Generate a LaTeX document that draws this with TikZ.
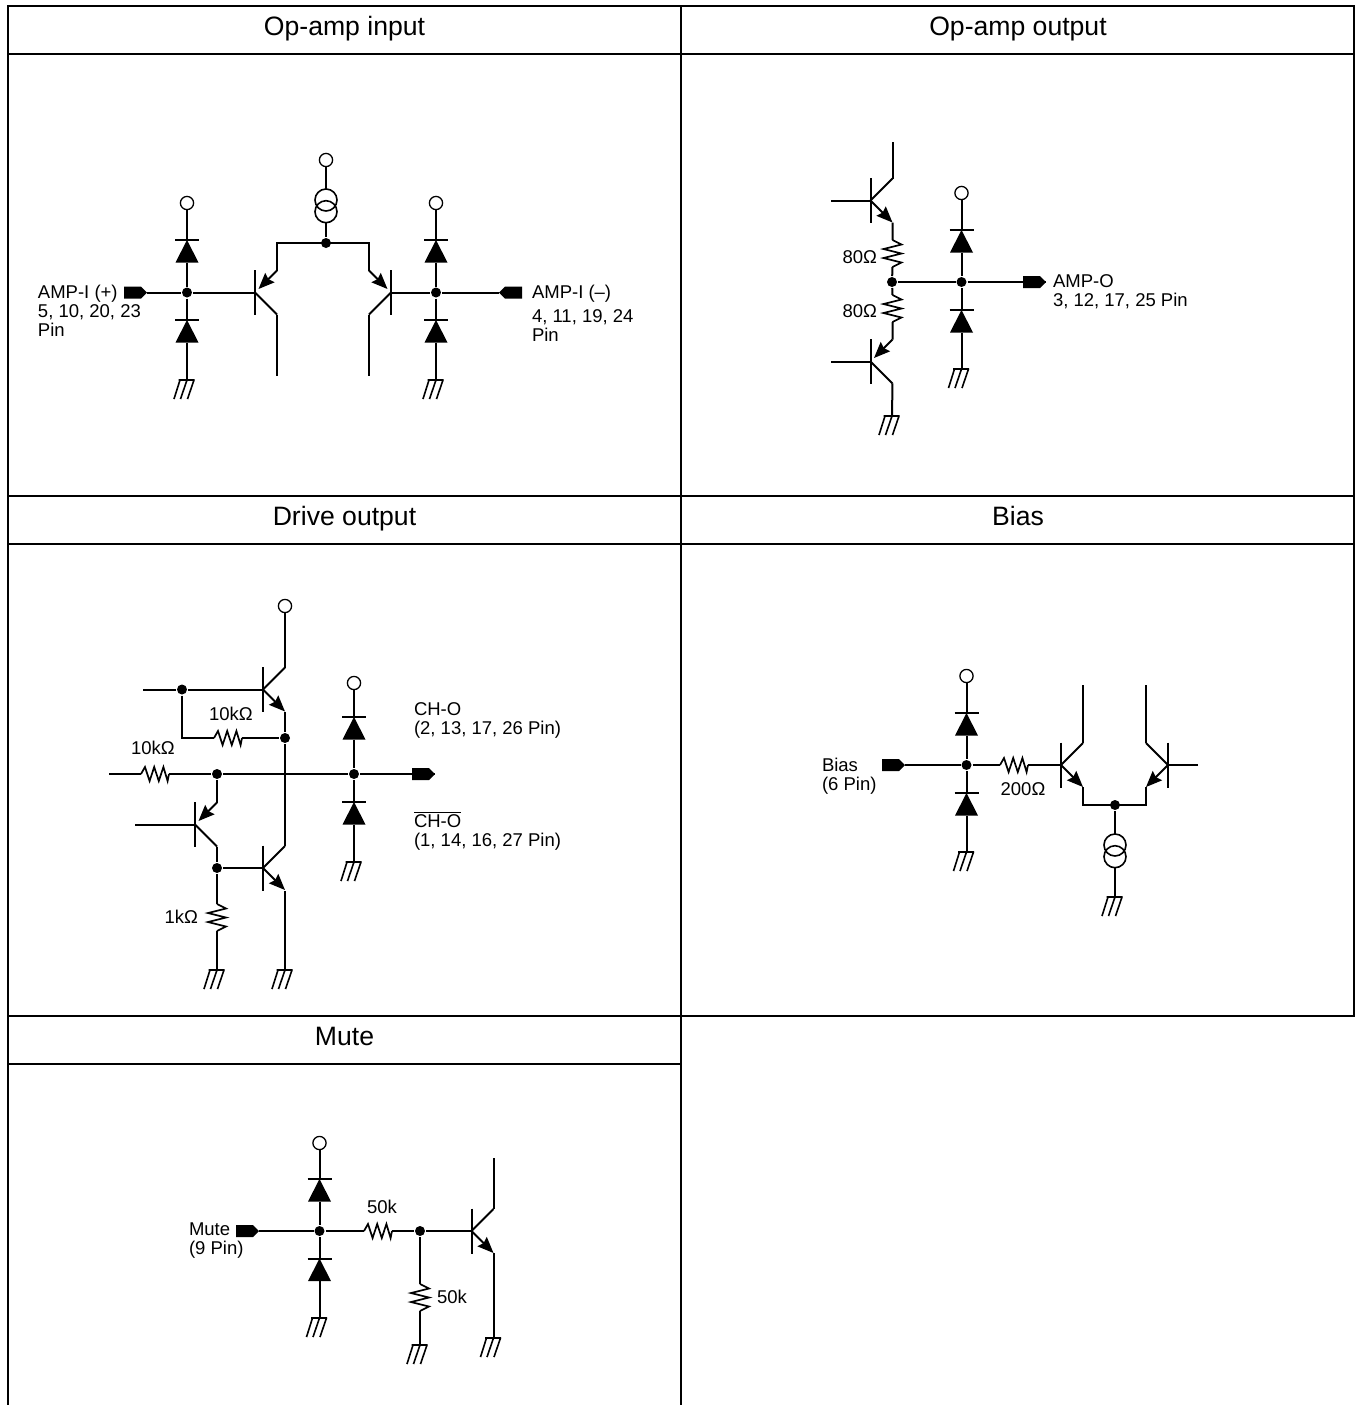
\documentclass[tikz,border=0pt]{standalone}
\usepackage{fontspec}
\setmainfont{Liberation Sans}
\usetikzlibrary{arrows.meta}
\tikzset{
  grid line/.style={line width=1pt,line cap=rect},
  title/.style={font=\fontsize{13.3}{15}\selectfont,inner sep=0pt,anchor=base},
  lab/.style={font=\fontsize{9.25}{9.5}\selectfont,inner sep=0pt,align=left,anchor=north west},
  val/.style={font=\fontsize{9.25}{9.5}\selectfont,inner sep=0pt},
  jdot/.style={circle,fill=black,inner sep=0pt,minimum size=5pt},
  opin/.style={circle,draw=black,line width=0.65pt,fill=white,inner sep=0pt,minimum size=6.6pt},
  tip/.style={-{Stealth[length=8pt,width=6.5pt,inset=1pt]}}
}
% transistor body: name, base x, base y, side, sign of emitter
\newcommand{\qbody}[5]{%
  \coordinate (#1-b) at (#2,#3);
  \coordinate (#1-c) at ({#2+22*#4},{#3-22*#5});
  \coordinate (#1-e) at ({#2+22*#4},{#3+22*#5});
  \draw (#2,{#3-22.5}) -- (#2,{#3+22.5});
  \draw (#1-b) -- (#1-c);
}
\newcommand{\qout}[5]{\qbody{#1}{#2}{#3}{#4}{#5}\draw[tip] (#1-b) -- (#1-e);}
\newcommand{\qin}[5]{\qbody{#1}{#2}{#3}{#4}{#5}%
  \coordinate (#1-n) at ({#2+3.5*#4},{#3+3.5*#5});
  \draw[tip] (#1-e) -- (#1-n);}
% diode pointing up: name, x, y of bar
\newcommand{\dio}[3]{%
  \coordinate (#1-t) at (#2,#3);
  \coordinate (#1-b) at (#2,{#3+22.5});
  \draw ({#2-12},#3) -- ({#2+12},#3);
  \fill (#2,#3) -- ({#2+11.5},{#3+22.5}) -- ({#2-11.5},{#3+22.5}) -- cycle;
}
% ground
\newcommand{\gnd}[3]{%
  \coordinate (#1) at (#2,#3);
  \draw[line width=0.8pt] ({#2-8.5},#3) -- ({#2+7.5},#3)
    ({#2+7},#3) -- ({#2+0.5},{#3+19})
    (#2,#3) -- ({#2-6.5},{#3+19})
    ({#2-7},#3) -- ({#2-13},{#3+19});
}
% resistors
\newcommand{\resH}[3]{%
  \coordinate (#1-a) at (#2,#3);
  \coordinate (#1-z) at ({#2+28},#3);
  \draw[line width=0.85pt] (#1-a) -- ++(4,-7) -- ++(4.6,14) -- ++(4.6,-14) -- ++(4.6,14) -- ++(4.6,-14) -- ++(4.2,14) -- (#1-z);
}
\newcommand{\resV}[3]{%
  \coordinate (#1-a) at (#2,#3);
  \coordinate (#1-z) at (#2,{#3+27});
  \draw[line width=0.85pt] (#1-a) -- ++(9,4.5) -- ++(-18,4.5) -- ++(18,4.5) -- ++(-18,4.5) -- ++(18,4.5) -- ++(-9,4.5);
}
% current source
\newcommand{\csrc}[3]{%
  \coordinate (#1-t) at (#2,{#3-11});
  \coordinate (#1-b) at (#2,{#3+22.7});
  \draw[line width=0.8pt] (#2,#3) circle[radius=11] (#2,{#3+11.7}) circle[radius=11];
}
% ports: name, x of connection tip, y
\newcommand{\portR}[3]{%
  \coordinate (#1) at (#2,#3);
  \fill (#1) -- ++(-6,-6) -- ++(-17,0) -- ++(0,12) -- ++(17,0) -- cycle;
}
\newcommand{\portL}[3]{%
  \coordinate (#1) at (#2,#3);
  \fill (#1) -- ++(6,-6) -- ++(17,0) -- ++(0,12) -- ++(-17,0) -- cycle;
}
\begin{document}
\begin{tikzpicture}[x=0.5pt,y=-0.5pt,line width=1pt]
\useasboundingbox (0,0) rectangle (1356,1405);
% ---- table
\draw[grid line] (7.5,5.5) -- (1354,5.5) -- (1354,1016) -- (7.5,1016);
\draw[grid line] (7.5,53.5) -- (1354,53.5);
\draw[grid line] (7.5,496) -- (1354,496);
\draw[grid line] (7.5,544) -- (1354,544);
\draw[grid line] (7.5,1064) -- (681,1064);
\draw[line width=1pt] (7.5,5.5) -- (7.5,1405);
\draw[line width=1pt] (681,5.5) -- (681,1405);
\node[title] (t1) at (344.5,35.5) {Op-amp input};
\node[title] (t2) at (1018,35.5) {Op-amp output};
\node[title] (t3) at (344.5,525.5) {Drive output};
\node[title] (t4) at (1018,525.5) {Bias};
\node[title] (t5) at (344.5,1045.5) {Mute};
% ---- Op-amp input
\node[opin] (a-o1) at (187,203) {};
\node[opin] (a-o2) at (326,160) {};
\node[opin] (a-o3) at (436,203) {};
\node[jdot] (a-j1) at (187,292.5) {};
\node[jdot] (a-j2) at (326,243) {};
\node[jdot] (a-j3) at (436,292.5) {};
\dio{a-d1}{187}{240}
\dio{a-d2}{187}{320}
\dio{a-d3}{436}{240}
\dio{a-d4}{436}{320}
\gnd{a-g1}{187}{380}
\gnd{a-g2}{436}{380}
\portR{a-p1}{147}{292.5}
\portL{a-p2}{499}{292.5}
\csrc{a-i}{326}{200}
\qin{a-q1}{255}{292.5}{1}{-1}
\qin{a-q2}{391}{292.5}{-1}{-1}
\coordinate (a-c1) at (277,376);
\coordinate (a-c2) at (369,376);
\coordinate (a-k1) at (277,243);
\coordinate (a-k2) at (369,243);
\draw (a-o1) -- (a-d1-t) (a-d1-b) -- (a-j1) -- (a-d2-t) (a-d2-b) -- (a-g1);
\draw (a-o3) -- (a-d3-t) (a-d3-b) -- (a-j3) -- (a-d4-t) (a-d4-b) -- (a-g2);
\draw (a-p1) -- (a-j1) -- (a-q1-b);
\draw (a-p2) -- (a-j3) -- (a-q2-b);
\draw (a-o2) -- (a-i-t) (a-i-b) -- (a-j2);
\draw (a-q1-e) -- (a-k1) -- (a-k2) -- (a-q2-e);
\draw (a-q1-c) -- (a-c1);
\draw (a-q2-c) -- (a-c2);
\node[lab] (a-l1) at (37,284) {AMP-I (+)\\5, 10, 20, 23\\Pin};
\node[lab] (a-l2) at (531,284) {AMP-I (–)\\[2.5pt]4, 11, 19, 24\\Pin};
% ---- Op-amp output
\node[opin] (b-o1) at (961.5,193) {};
\node[jdot] (b-j1) at (892,282) {};
\node[jdot] (b-j2) at (961.5,282) {};
\dio{b-d1}{961.5}{230}
\dio{b-d2}{961.5}{310}
\gnd{b-g1}{961.5}{369}
\gnd{b-g2}{892}{416}
\portR{b-p1}{1046}{282}
\qout{b-q1}{870.5}{200.5}{1}{1}
\qin{b-q2}{870.5}{361.5}{1}{-1}
\resV{b-r1}{892.5}{240}
\resV{b-r2}{892.5}{295}
\coordinate (b-w1) at (831,200.5);
\coordinate (b-w2) at (831,361.5);
\coordinate (b-c1) at (892.5,142);
\draw (b-o1) -- (b-d1-t) (b-d1-b) -- (b-j2) -- (b-d2-t) (b-d2-b) -- (b-g1);
\draw (b-j1) -- (b-j2) -- (b-p1);
\draw (b-w1) -- (b-q1-b);
\draw (b-w2) -- (b-q2-b);
\draw (b-q1-c) -- (b-c1);
\draw (b-q1-e) -- (b-r1-a) (b-r1-z) -- (b-j1) -- (b-r2-a) (b-r2-z) -- (b-q2-e);
\draw (b-q2-c) -- (b-g2);
\node[val,anchor=east] (b-v1) at (878,257) {80Ω};
\node[val,anchor=east] (b-v2) at (878,311) {80Ω};
\node[lab] (b-l1) at (1052,274) {AMP-O\\3, 12, 17, 25 Pin};
% ---- Drive output
\node[opin] (c-o1) at (285,606) {};
\node[opin] (c-o2) at (354,683) {};
\node[jdot] (c-j1) at (182,689.5) {};
\node[jdot] (c-j2) at (285,738) {};
\node[jdot] (c-j3) at (217,774) {};
\node[jdot] (c-j4) at (354,774) {};
\node[jdot] (c-j5) at (217,868) {};
\coordinate (c-x) at (285,774);
\dio{c-d1}{354}{717}
\dio{c-d2}{354}{802}
\gnd{c-g1}{354}{862}
\gnd{c-g2}{217}{970}
\gnd{c-g3}{285}{970}
\portR{c-p1}{435}{774}
\qout{c-q1}{263}{689.5}{1}{1}
\qin{c-q2}{195}{824.5}{1}{-1}
\qout{c-q3}{263}{868}{1}{1}
\resH{c-r1}{214}{738}
\resH{c-r2}{141}{774}
\resV{c-r3}{217}{904}
\coordinate (c-w1) at (143,689.5);
\coordinate (c-w2) at (109,774);
\coordinate (c-w3) at (135,824.5);
\coordinate (c-k1) at (182,738);
\coordinate (c-s1) at (285,891);
\draw (c-o1) -- (c-q1-c);
\draw (c-w1) -- (c-j1) -- (c-q1-b);
\draw (c-j1) -- (c-k1) -- (c-r1-a) (c-r1-z) -- (c-j2);
\draw (c-q1-e) -- (c-j2) -- (c-q3-c);
\draw (c-w2) -- (c-r2-a) (c-r2-z) -- (c-j3) -- (c-x) -- (c-j4) -- (c-p1);
\draw (c-w3) -- (c-q2-b);
\draw (c-j3) -- (c-q2-e);
\draw (c-q2-c) -- (c-j5) -- (c-r3-a) (c-r3-z) -- (c-g2);
\draw (c-j5) -- (c-q3-b);
\draw (c-s1) -- (c-g3);
\draw (c-o2) -- (c-d1-t) (c-d1-b) -- (c-j4) -- (c-d2-t) (c-d2-b) -- (c-g1);
\node[val] (c-v1) at (231,714) {10kΩ};
\node[val] (c-v2) at (153,748) {10kΩ};
\node[val,anchor=east] (c-v3) at (199,917) {1kΩ};
\node[lab] (c-l1) at (413,702) {CH-O\\(2, 13, 17, 26 Pin)};
\node[lab] (c-l2) at (413,810) {$\overline{\mbox{CH-O}}$\\(1, 14, 16, 27 Pin)};
% ---- Bias
\node[opin] (d-o1) at (966.5,676) {};
\node[jdot] (d-j1) at (966.5,765) {};
\node[jdot] (d-j2) at (1115,805) {};
\dio{d-d1}{966.5}{713}
\dio{d-d2}{966.5}{793}
\gnd{d-g1}{966.5}{852}
\gnd{d-g2}{1115}{897}
\portR{d-p1}{905}{765}
\resH{d-r1}{1000}{765}
\qout{d-q1}{1061}{765}{1}{1}
\qout{d-q2}{1168}{765}{-1}{1}
\csrc{d-i}{1115}{845}
\coordinate (d-c1) at (1083,685);
\coordinate (d-c2) at (1146,685);
\coordinate (d-k1) at (1083,805);
\coordinate (d-k2) at (1146,805);
\coordinate (d-w1) at (1198,765);
\draw (d-o1) -- (d-d1-t) (d-d1-b) -- (d-j1) -- (d-d2-t) (d-d2-b) -- (d-g1);
\draw (d-p1) -- (d-j1) -- (d-r1-a) (d-r1-z) -- (d-q1-b);
\draw (d-q1-c) -- (d-c1);
\draw (d-q2-c) -- (d-c2);
\draw (d-w1) -- (d-q2-b);
\draw (d-q1-e) -- (d-k1) -- (d-k2) -- (d-q2-e);
\draw (d-j2) -- (d-i-t) (d-i-b) -- (d-g2);
\node[val] (d-v1) at (1023,789) {200Ω};
\node[lab] (d-l1) at (821,757) {Bias\\(6 Pin)};
% ---- Mute
\node[opin] (e-o1) at (319.5,1143) {};
\node[jdot] (e-j1) at (319.5,1231) {};
\node[jdot] (e-j2) at (420,1231) {};
\dio{e-d1}{319.5}{1179}
\dio{e-d2}{319.5}{1258.5}
\gnd{e-g1}{319.5}{1318}
\gnd{e-g2}{420}{1345}
\gnd{e-g3}{493.5}{1338}
\portR{e-p1}{259}{1231}
\resH{e-r1}{364}{1231}
\resV{e-r2}{420}{1284}
\qout{e-q1}{471.5}{1231}{1}{1}
\coordinate (e-c1) at (493.5,1158);
\coordinate (e-s1) at (493.5,1253);
\draw (e-o1) -- (e-d1-t) (e-d1-b) -- (e-j1) -- (e-d2-t) (e-d2-b) -- (e-g1);
\draw (e-p1) -- (e-j1) -- (e-r1-a) (e-r1-z) -- (e-j2) -- (e-q1-b);
\draw (e-j2) -- (e-r2-a) (e-r2-z) -- (e-g2);
\draw (e-q1-c) -- (e-c1);
\draw (e-s1) -- (e-g3);
\node[val] (e-v1) at (382,1207) {50k};
\node[val,anchor=west] (e-v2) at (436,1297) {50k};
\node[lab] (e-l1) at (188,1222) {Mute\\(9 Pin)};
\end{tikzpicture}
\end{document}
